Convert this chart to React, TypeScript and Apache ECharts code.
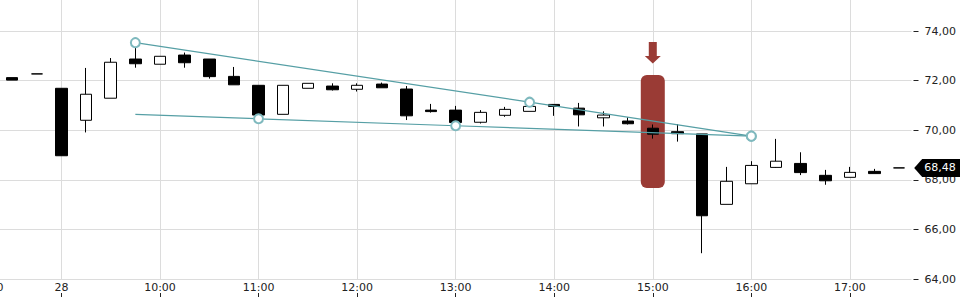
import React, { useEffect, useRef } from 'react';
import * as echarts from 'echarts';

// 15-minute candles: index 0 = 27th 17:15 ... index 36 = 28th 17:30
const times = [
  '27 17:15', '27 17:30',
  '09:00', '09:15', '09:30', '09:45', '10:00', '10:15', '10:30', '10:45',
  '11:00', '11:15', '11:30', '11:45', '12:00', '12:15', '12:30', '12:45',
  '13:00', '13:15', '13:30', '13:45', '14:00', '14:15', '14:30', '14:45',
  '15:00', '15:15', '15:30', '15:45', '16:00', '16:15', '16:30', '16:45',
  '17:00', '17:15', '17:30',
];
const openV = [
  72.12, 72.27, 71.69, 70.40, 71.29, 72.87, 72.66, 73.03, 72.87, 72.17,
  71.81, 70.64, 71.69, 71.78, 71.65, 71.86, 71.66, 70.81, 70.81, 70.32,
  70.60, 70.76, 71.04, 70.89, 70.50, 70.37, 70.08, 69.94, 69.85, 67.01,
  67.84, 68.50, 68.66, 68.18, 68.10, 68.34, 68.48,
];
const closeV = [
  72.02, 72.27, 68.97, 71.45, 72.74, 72.68, 72.98, 72.72, 72.16, 71.83,
  70.61, 71.81, 71.89, 71.63, 71.81, 71.71, 70.58, 70.75, 70.31, 70.72,
  70.84, 70.96, 70.96, 70.62, 70.61, 70.26, 69.84, 69.86, 66.55, 67.94,
  68.58, 68.75, 68.29, 67.96, 68.30, 68.25, 68.48,
];
const lowV = [
  72.02, 72.27, 68.97, 69.91, 71.29, 72.52, 72.66, 72.52, 72.08, 71.83,
  70.45, 70.64, 71.69, 71.60, 71.56, 71.71, 70.41, 70.71, 70.17, 70.27,
  70.54, 70.76, 70.58, 70.15, 70.15, 70.23, 69.66, 69.54, 65.04, 67.01,
  67.84, 68.48, 68.19, 67.80, 68.10, 68.25, 68.48,
];
const highV = [
  72.12, 72.27, 71.69, 72.51, 72.91, 73.53, 72.98, 73.13, 72.87, 72.55,
  71.81, 71.81, 71.89, 71.89, 71.89, 71.92, 71.78, 71.06, 70.98, 70.81,
  70.94, 71.18, 71.04, 71.10, 70.76, 70.52, 70.23, 70.25, 69.85, 68.52,
  68.75, 69.65, 69.11, 68.40, 68.52, 68.44, 68.48,
];

// x tick positions (candle index) and their labels
const xTickIndex = [-1, 2, 6, 10, 14, 18, 22, 26, 30, 34];
const xTickLabels = ['17:00', '28', '10:00', '11:00', '12:00', '13:00', '14:00', '15:00', '16:00', '17:00'];
const yTicks = [64, 66, 68, 70, 72, 74];

// trend lines [index, price]
const upperTrend = [[5, 73.53], [21, 71.13], [30, 69.76]];
const lowerTrend = [[5, 70.64], [10, 70.46], [18, 70.18], [30, 69.76]];
const lowerTrendMarked = [false, true, true, true];

// signal at 15:00
const signalIndex = 26;
const signalTop = 72.23;
const signalBottom = 67.67;
const arrowTop = 73.56;

const fmt = (v: number) => v.toFixed(2).replace('.', ',');
const FONT = '"DejaVu Sans", sans-serif';
const RED = '#9a3b35';
const TEAL = '#569fa5';

export default function App() {
  const ref = useRef<HTMLDivElement>(null);
  useEffect(() => {
    document.body.style.margin = '0';
    if (!ref.current) return;
    const chart = echarts.init(ref.current, null, { renderer: 'svg' });
    const candleData = times.map((_, i) => [i, openV[i], closeV[i], lowV[i], highV[i]]);
    const last = times.length - 1;
    const option: any = {
      animation: false,
      backgroundColor: '#fff',
      grid: { left: -24.8, right: 48.5, top: 0, bottom: 21, containLabel: false, outerBoundsMode: 'none' },
      xAxis: [
        {
          type: 'value',
          min: -1.5,
          max: 36.5,
          position: 'bottom',
          axisLine: { show: false, onZero: false },
          axisTick: { show: false, customValues: xTickIndex },
          axisLabel: {
            customValues: xTickIndex,
            margin: 3,
            color: '#222',
            fontSize: 11,
            fontFamily: FONT,
            formatter: (v: number) => {
              const k = xTickIndex.indexOf(Math.round(v));
              return k >= 0 ? xTickLabels[k] : '';
            },
          },
          splitLine: { show: true, customValues: xTickIndex, lineStyle: { color: '#dcdcdc', width: 1 } },
        },
        {
          type: 'value',
          min: -1.5,
          max: 36.5,
          position: 'bottom',
          offset: 14,
          axisLine: { show: false, onZero: false },
          axisTick: { show: true, length: 4, customValues: xTickIndex, lineStyle: { color: '#222' } },
          axisLabel: { show: false },
          splitLine: { show: false },
        },
      ],
      yAxis: {
        type: 'value',
        position: 'right',
        min: 64,
        max: 75.25,
        offset: 2,
        axisLine: { show: false, onZero: false },
        axisTick: { show: true, length: 5, customValues: yTicks, lineStyle: { color: '#222' } },
        axisLabel: {
          customValues: yTicks,
          margin: 11,
          color: '#222',
          fontSize: 11,
          fontFamily: FONT,
          formatter: (v: number) => fmt(v),
        },
        splitLine: { show: true, customValues: yTicks, lineStyle: { color: '#dcdcdc', width: 1 } },
      },
      series: [
        {
          type: 'custom',
          z: 1,
          data: [[signalIndex, signalTop, signalBottom]],
          encode: { x: 0, y: [1, 2] },
          renderItem: (_p: any, api: any) => {
            const a = api.coord([api.value(0), api.value(1)]);
            const b = api.coord([api.value(0), api.value(2)]);
            return {
              type: 'rect',
              shape: { x: a[0] - 12, y: a[1], width: 24, height: b[1] - a[1], r: 6 },
              style: { fill: RED },
            };
          },
        },
        {
          type: 'custom',
          z: 1,
          data: [[signalIndex, arrowTop]],
          encode: { x: 0, y: 1 },
          renderItem: (_p: any, api: any) => {
            const p = api.coord([api.value(0), api.value(1)]);
            const x = p[0];
            const y = p[1];
            return {
              type: 'polygon',
              shape: {
                points: [
                  [x - 4, y], [x + 4, y], [x + 4, y + 14], [x + 8, y + 14],
                  [x, y + 21.5], [x - 8, y + 14], [x - 4, y + 14],
                ],
              },
              style: { fill: RED },
            };
          },
        },
        {
          type: 'candlestick',
          z: 2,
          data: candleData,
          encode: { x: 0, y: [1, 2, 3, 4] },
          barWidth: 12,
          itemStyle: {
            color: '#ffffff',
            color0: '#000000',
            borderColor: '#000000',
            borderColor0: '#000000',
            borderWidth: 1,
          },
        },
        {
          type: 'line',
          z: 3,
          data: upperTrend,
          symbol: 'emptyCircle',
          symbolSize: 9,
          itemStyle: { color: '#7fb9be', borderWidth: 1 },
          lineStyle: { color: TEAL, width: 1.2 },
        },
        {
          type: 'line',
          z: 3,
          data: lowerTrend.map((d, i) => ({ value: d, symbol: lowerTrendMarked[i] ? 'emptyCircle' : 'none' })),
          symbol: 'emptyCircle',
          symbolSize: 9,
          itemStyle: { color: '#7fb9be', borderWidth: 1 },
          lineStyle: { color: TEAL, width: 1.2 },
        },
        {
          type: 'custom',
          z: 4,
          data: [[last, closeV[last]]],
          encode: { x: 0, y: 1 },
          renderItem: (_p: any, api: any) => {
            const p = api.coord([api.value(0), api.value(1)]);
            const tip = p[0] + 15;
            const y = p[1];
            return {
              type: 'group',
              children: [
                {
                  type: 'polygon',
                  shape: { points: [[tip, y], [tip + 8, y - 9], [tip + 70, y - 9], [tip + 70, y + 9], [tip + 8, y + 9]] },
                  style: { fill: '#000' },
                },
                {
                  type: 'text',
                  style: {
                    text: fmt(api.value(1)),
                    x: tip + 10,
                    y: y,
                    fill: '#fff',
                    font: '11px "DejaVu Sans", sans-serif',
                    verticalAlign: 'middle',
                    align: 'left',
                  },
                },
              ],
            };
          },
        },
      ],
    };
    chart.setOption(option);
    return () => chart.dispose();
  }, []);
  return <div ref={ref} style={{ width: 960, height: 300 }} />;
}
